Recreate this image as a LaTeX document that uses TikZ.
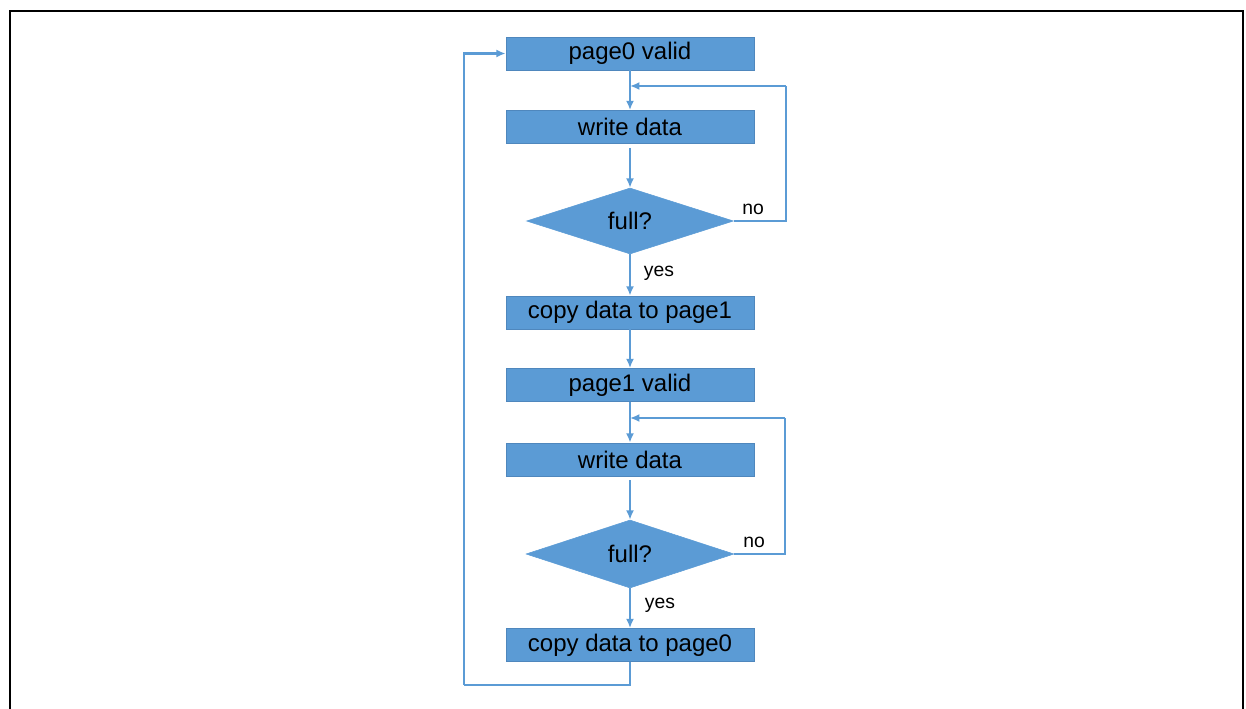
\documentclass[tikz,border=0pt]{standalone}
\usepackage{fontspec}
\setmainfont{Liberation Sans}
\usetikzlibrary{shapes.geometric,arrows.meta}
\definecolor{boxblue}{HTML}{5B9BD5}
\definecolor{boxedge}{HTML}{4F87BD}
\definecolor{lineblue}{HTML}{5B9BD5}
\begin{document}
\begin{tikzpicture}[x=0.75pt,y=-0.75pt,
  stepbox/.style={rectangle, fill=boxblue, draw=boxedge, line width=0.6pt,
    minimum width=186pt, minimum height=24.75pt, inner sep=0pt,
    font=\fontsize{18}{20}\selectfont, text=black},
  decision/.style={diamond, fill=boxblue, draw=boxblue, line width=0.4pt,
    minimum width=155.25pt, minimum height=49.5pt, inner sep=0pt,
    font=\fontsize{18}{20}\selectfont, text=black},
  conn/.style={draw=lineblue, line width=2.2pt},
  arr/.style={conn, -{Latex[length=7pt,width=6pt]}},
  lbl/.style={font=\fontsize{14.5}{16}\selectfont, text=black, inner sep=0pt}
]
\useasboundingbox (0,0) rectangle (1246,709);
% frame
\draw[line width=2.2pt, line cap=rect] (10,709) -- (10,11) -- (1243,11) -- (1243,709);

% nodes
\node[stepbox] (b1) at (630,53.5) {page0 valid};
\node[stepbox] (b2) at (630,127) {write data};
\node[decision] (d1) at (630,221) {full?};
\node[stepbox] (b3) at (630,312.5) {copy data to page1};
\node[stepbox] (b4) at (630,385) {page1 valid};
\node[stepbox] (b5) at (630,459.5) {write data};
\node[decision, minimum width=156pt, minimum height=51pt] (d2) at (630,554) {full?};
\node[stepbox] (b6) at (630,645) {copy data to page0};

% helper coordinates
\coordinate (j1) at (630,86);
\coordinate (r1) at (786,86);
\coordinate (j2) at (630,418);
\coordinate (r2) at (785,418);
\coordinate (c1) at (464,685);

% connectors
\draw[arr] (b1.south) -- (b2.north);
\draw[arr, shorten <=3pt] (b2.south) -- (d1.north);
\draw[conn] (d1.east) -| (r1);
\draw[arr] (r1) -- (j1);
\draw[arr] (d1.south) -- (b3.north);
\draw[arr] (b3.south) -- (b4.north);
\draw[arr] (b4.south) -- (b5.north);
\draw[arr, shorten <=3pt] (b5.south) -- (d2.north);
\draw[conn] (d2.east) -| (r2);
\draw[arr] (r2) -- (j2);
\draw[arr] (d2.south) -- (b6.north);
\draw[conn] (b6.south) |- (c1);
\draw[arr] (c1) |- (b1.west);

% labels
\node[lbl] (no1) at (753,209) {no};
\node[lbl] (yes1) at (659,273) {yes};
\node[lbl] (no2) at (754,542) {no};
\node[lbl] (yes2) at (660,605) {yes};
\end{tikzpicture}
\end{document}
